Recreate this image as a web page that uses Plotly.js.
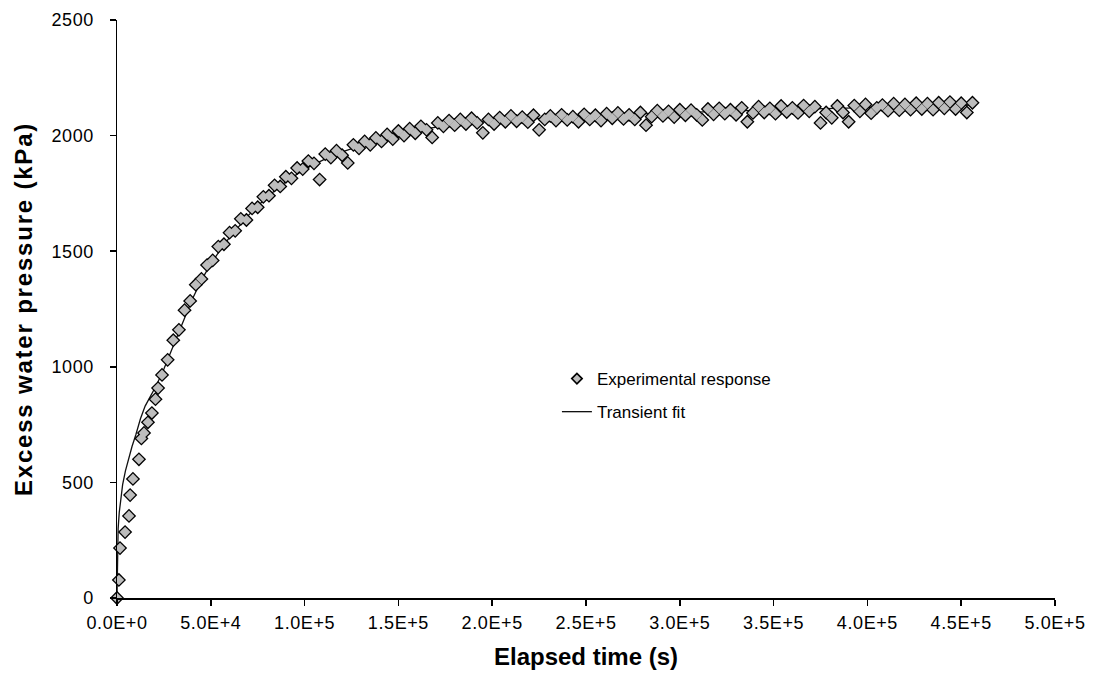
<!DOCTYPE html>
<html>
<head>
<meta charset="utf-8">
<script src="https://cdn.plot.ly/plotly-3.0.1.min.js"></script>
<style>
  html, body { margin: 0; padding: 0; background: #ffffff; }
  #chart { width: 1094px; height: 681px; }
  .ytitle { letter-spacing: 1.8px; }
  .xtick text, .ytick text { letter-spacing: 0.6px; }
</style>
</head>
<body>
<div id="chart"></div>
<script>
// Experimental response: elapsed time (s)
const expTime = [
  0, 1000, 1600, 4300, 6400, 7000, 8500, 11700, 13000, 14400, 16500, 18600, 20500, 21900,
  24000, 27000, 30000, 33000, 36000, 39000, 42000, 45000, 48000, 51000, 54000, 57000,
  60000, 63000, 66000, 69000, 72000, 75000, 78000, 81000, 84000, 87000, 90000, 93000,
  96000, 99000, 102000, 105000, 108000, 111000, 114000, 117000, 120000, 123000, 126000, 129000,
  132000, 135000, 138000, 141000, 144000, 147000, 150000, 153000, 156000, 159000, 162000, 165000,
  168000, 171000, 174000, 177000, 180000, 183000, 186000, 189000, 192000, 195000, 198000, 201000,
  204000, 207000, 210000, 213000, 216000, 219000, 222000, 225000, 228000, 231000, 234000, 237000,
  240000, 243000, 246000, 249000, 252000, 255000, 258000, 261000, 264000, 267000, 270000, 273000,
  276000, 279000, 282000, 285000, 288000, 291000, 294000, 297000, 300000, 303000, 306000, 309000,
  312000, 315000, 318000, 321000, 324000, 327000, 330000, 333000, 336000, 339000, 342000, 345000,
  348000, 351000, 354000, 357000, 360000, 363000, 366000, 369000, 372000, 375000, 378000, 381000,
  384000, 387000, 390000, 393000, 396000, 399000, 402000, 405000, 408000, 411000, 414000, 417000,
  420000, 423000, 426000, 429000, 432000, 435000, 438000, 441000, 444000, 447000, 450000, 453000,
  456000
];
// Experimental response: excess water pressure (kPa)
const expPressure = [
  0, 78, 216, 285, 355, 445, 515, 600, 690, 714, 760, 800, 860, 908,
  965, 1030, 1115, 1160, 1245, 1285, 1355, 1380, 1440, 1460, 1520, 1530,
  1580, 1588, 1640, 1635, 1685, 1690, 1735, 1740, 1785, 1780, 1822, 1815,
  1860, 1855, 1890, 1880, 1810, 1920, 1905, 1935, 1915, 1882, 1960, 1945,
  1975, 1960, 1990, 1975, 2005, 1985, 2020, 2000, 2030, 2010, 2040, 2025,
  1992, 2055, 2040, 2065, 2045, 2070, 2050, 2075, 2055, 2012, 2070, 2050,
  2078, 2060, 2085, 2062, 2080, 2058, 2088, 2025, 2070, 2085, 2065, 2090,
  2068, 2082, 2060, 2092, 2070, 2088, 2065, 2095, 2075, 2098, 2072, 2090,
  2070, 2100, 2045, 2082, 2108, 2085, 2105, 2080, 2112, 2088, 2110, 2090,
  2068, 2115, 2092, 2118, 2095, 2112, 2090, 2120, 2060, 2098, 2125, 2100,
  2118, 2095, 2128, 2102, 2120, 2098, 2130, 2105, 2125, 2055, 2100, 2077,
  2128, 2100, 2060, 2130, 2105, 2135, 2097, 2120, 2132, 2108, 2138, 2110,
  2135, 2112, 2140, 2115, 2138, 2112, 2142, 2118, 2145, 2115, 2140, 2100,
  2142
];
// Transient fit
const fitTime = [
  0, 200, 600, 1200, 2000, 3000, 4500, 6000, 8000, 10000, 12500, 15000, 18000, 21000,
  25000, 30000, 35000, 40000, 45000, 50000, 55000, 60000, 70000, 80000, 90000, 100000,
  110000, 120000, 135000, 150000, 165000, 180000, 200000, 225000, 250000, 275000, 300000,
  330000, 360000, 390000, 420000, 457000
];
const fitPressure = [
  0, 200, 300, 370, 430, 490, 550, 600, 655, 705, 775, 830, 875, 920,
  990, 1090, 1190, 1290, 1375, 1445, 1505, 1560, 1655, 1735, 1800, 1855,
  1895, 1930, 1970, 2005, 2030, 2048, 2063, 2075, 2085, 2093, 2100,
  2107, 2113, 2118, 2123, 2132
];
// Axis ticks
const xTickValues = [0, 50000, 100000, 150000, 200000, 250000, 300000, 350000, 400000, 450000, 500000];
const xTickLabels = ["0.0E+0", "5.0E+4", "1.0E+5", "1.5E+5", "2.0E+5", "2.5E+5", "3.0E+5", "3.5E+5", "4.0E+5", "4.5E+5", "5.0E+5"];
const yTickValues = [0, 500, 1000, 1500, 2000, 2500];
const yTickLabels = ["0", "500", "1000", "1500", "2000", "2500"];

const FONT = "Liberation Sans, Arial, sans-serif";

const traces = [
  {
    x: fitTime, y: fitPressure, type: "scatter", mode: "lines",
    name: "Transient fit", legendgroup: "fit", legendrank: 2,
    line: { color: "#111111", width: 1.3 },
    hoverinfo: "skip"
  },
  {
    x: expTime, y: expPressure, type: "scatter", mode: "markers",
    name: "Experimental response", showlegend: false, cliponaxis: false,
    marker: { symbol: "diamond", size: 11, color: "#000000", line: { width: 0 } },
    hoverinfo: "skip"
  },
  {
    x: expTime, y: expPressure, type: "scatter", mode: "markers",
    name: "Experimental response", showlegend: false, cliponaxis: false,
    marker: { symbol: "diamond", size: 8.2, color: "#bdbdbd", line: { width: 0 } }
  },
  {
    x: [null], y: [null], type: "scatter", mode: "markers",
    name: "Experimental response", legendgroup: "exp", legendrank: 1,
    marker: { symbol: "diamond", size: 8, color: "#bdbdbd", line: { color: "#000000", width: 1.6 } }
  }
];

const layout = {
  width: 1094, height: 681,
  margin: { l: 117, r: 39, t: 20, b: 83 },
  paper_bgcolor: "#ffffff", plot_bgcolor: "#ffffff",
  font: { family: FONT, color: "#000000", size: 17 },
  showlegend: true,
  legend: {
    x: 0.469, y: 0.41, xanchor: "left", yanchor: "top",
    bgcolor: "rgba(0,0,0,0)", borderwidth: 0,
    font: { family: FONT, size: 17, color: "#000000" },
    traceorder: "grouped", tracegroupgap: 8, itemwidth: 30
  },
  xaxis: {
    range: [0, 500000], tickvals: xTickValues, ticktext: xTickLabels,
    ticks: "outside", ticklen: 6, tickwidth: 1.5, tickcolor: "#000000",
    showline: true, linecolor: "#000000", linewidth: 1.5,
    showgrid: false, zeroline: false, ticklabelstandoff: 2,
    tickfont: { family: FONT, size: 18, color: "#000000" },
    title: { text: "<b>Elapsed time (s)</b>", font: { family: FONT, size: 24, color: "#000000" }, standoff: 16 }
  },
  yaxis: {
    range: [0, 2500], tickvals: yTickValues, ticktext: yTickLabels,
    ticks: "outside", ticklen: 6, tickwidth: 1.5, tickcolor: "#000000",
    showline: true, linecolor: "#000000", linewidth: 1.5,
    showgrid: false, zeroline: false, ticklabelstandoff: 12,
    tickfont: { family: FONT, size: 18, color: "#000000" },
    title: { text: "<b>Excess water pressure (kPa)</b>", font: { family: FONT, size: 24, color: "#000000" }, standoff: 12 }
  }
};

Plotly.newPlot("chart", traces, layout, { staticPlot: true, displayModeBar: false });
</script>
</body>
</html>
